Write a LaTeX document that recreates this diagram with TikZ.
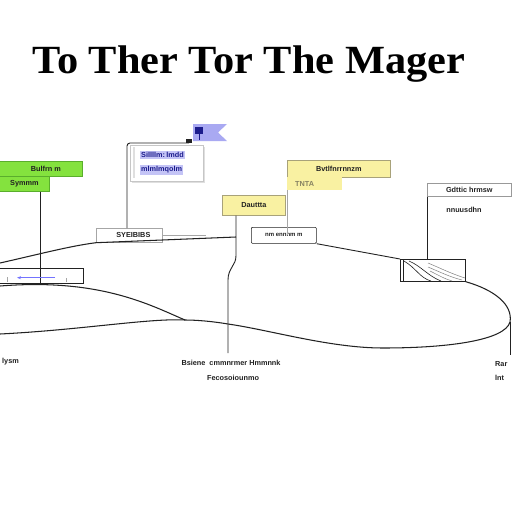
\documentclass[tikz,border=0pt]{standalone}
\usepackage{fontspec}
\setmainfont{Liberation Sans}
\newfontfamily\titlefont{Liberation Serif}
\usetikzlibrary{shadows,arrows.meta}
\definecolor{gfill}{HTML}{84E23E}
\definecolor{gborder}{HTML}{5AAE2C}
\definecolor{yfill}{HTML}{F9F1A2}
\definecolor{yborder}{HTML}{A8A27A}
\definecolor{hlfill}{HTML}{C4C4F6}
\definecolor{hltext}{HTML}{1C1C8C}
\definecolor{flagfill}{HTML}{A9A9F2}
\definecolor{ink}{HTML}{222222}
\begin{document}
\begin{tikzpicture}[x=1pt,y=-1pt,
  lbl/.style={font=\bfseries\fontsize{7.3}{8}\selectfont, inner sep=0pt, text=ink},
  box/.style={lbl, anchor=north west, draw=ink, line width=0.7pt},
  gbox/.style={box, draw=gborder, fill=gfill},
  ybox/.style={box, draw=yborder, fill=yfill},
  wbox/.style={box, fill=white},
  hl/.style={lbl, fill=hlfill, text=hltext, anchor=west, inner xsep=1pt, inner ysep=1.5pt},
  conn/.style={draw=ink, line width=0.9pt},
  curve/.style={draw=ink, line width=1.05pt},
  thinl/.style={draw=gray!70, line width=0.5pt}]
\useasboundingbox (0,0) rectangle (512,512);
\fill[white] (0,0) rectangle (512,512);

% title
\node[font=\titlefont\bfseries\fontsize{40}{42}\selectfont, anchor=base, inner sep=0pt, xscale=1.06, transform shape] (title) at (249,73) {To Ther Tor The Mager};

% green boxes
\node[gbox, minimum width=83, minimum height=15] (g1) at (-1,161) {\hspace*{10pt}Bulfrn m};
\node[gbox, minimum width=50, minimum height=15] (g2) at (-1,176) {Symmm};
\coordinate (gpole) at ([xshift=41pt]g2.south west);

% left lower box
\node[box, draw=ink, minimum width=84, minimum height=15] (lb) at (-1,268) {};
\coordinate (gfoot) at (gpole |- lb.south);
\draw[conn] (gpole) -- (gfoot);
\draw[blue!55, line width=0.9pt, -{Stealth[length=4pt,width=3pt]}] ([xshift=56pt,yshift=6pt]lb.south west) -- ([xshift=18pt,yshift=6pt]lb.south west);
\draw[thinl] (7,277) -- (7,282);
\draw[thinl] (66,278) -- (66,282);

% flag
\fill[flagfill] (193,124) -- (227,124) -- (218,132.5) -- (227,141) -- (193,141) -- cycle;
\fill[hltext] (195,127) rectangle (203,134);
\draw[hltext, line width=0.8pt] (199,134) -- (199,140);
\fill[ink] (186,139) rectangle (192,143);
\coordinate (flagfoot) at (189,143);

% card with highlighted rows
\node[box, draw=gray!45, fill=white, drop shadow={shadow xshift=1.5pt, shadow yshift=-1.5pt, opacity=0.25}, minimum width=73, minimum height=36] (card) at (130,145) {};
\fill[gray!25] (133,147) rectangle (135,178);
\node[hl] (r1) at (140,155) {Sillllm:\,lmdd};
\node[hl] (r2) at (140,170) {mlmlmqolm};

% SYERBOS box
\node[wbox, draw=gray!70, minimum width=66, minimum height=14] (sy) at (96,228) {\hspace*{8pt}SYEIBIBS};
\draw[thinl] (sy.east) -- ++(43,0) coordinate (syend);
\draw[conn, rounded corners=3pt] ([xshift=31pt]sy.north west) |- (flagfoot);

% yellow box 1
\node[ybox, minimum width=63, minimum height=20] (y1) at (222,195) {Dauttta};
\coordinate (y1foot) at (228,353);
\draw[conn] ([xshift=14pt]y1.south west) -- ++(0,40) .. controls +(0,10) and (228,268) .. (228,280) -- (y1foot);

% top hill curve
\draw[curve] (0,263) .. controls (40,254) and (70,246) .. (sy.south west) -- (236,237);

% yellow box 2
\node[ybox, minimum width=103, minimum height=17] (y2) at (287,160) {Bvtlfnrrnnzm};
\node[lbl, anchor=north west, fill=yfill, text=yborder!80!black, minimum width=55, minimum height=13] (y2b) at (287,177) {\hspace*{-20pt}TNTA};

% small box
\node[wbox, minimum width=65, minimum height=16, rounded corners=1pt, font=\bfseries\fontsize{6}{7}\selectfont] (mb) at (251,227) {nm ennnm m};
\draw[thinl, line width=0.7pt] (y2b.south west) -- (y2b.south west |- mb.east);

% right frame box
\node[wbox, draw=gray!80, minimum width=84, minimum height=13] (rb) at (427,183) {Gdttic hrmsw};
\node[lbl] (rt) at (464,210) {nnuusdhn};

% hatched box
\node[box, minimum width=65, minimum height=22] (hb) at (400,259) {};
\draw[conn] (rb.south west) -- (rb.south west |- hb.north);
\draw[conn] (mb.south east) -- (hb.north west);
\draw[thinl, draw=ink] (403,260) -- (403,281);
\draw[ink, line width=0.6pt] (404,261) .. controls (416,268) and (420,278) .. (431,281);
\draw[ink, line width=0.6pt] (409,261) .. controls (421,266) and (428,276) .. (441,281);
\draw[gray, line width=0.5pt] (428,263) .. controls (440,268) and (452,274) .. (465,278);
\draw[gray, line width=0.5pt] (428,267) .. controls (440,272) and (450,277) .. (462,280);
\draw[gray, line width=0.5pt] (430,271) .. controls (438,275) and (445,279) .. (452,281);

% big lower outline
\coordinate (join) at (185,320);
\draw[curve] (hb.south east) .. controls (495,290) and (513,305) .. (510,322)
  .. controls (505,340) and (450,348) .. (383,348)
  .. controls (330,348) and (270,330) .. (228,324)
  .. controls (210,321) and (195,320) .. (join);
\draw[curve] (0,286) .. controls (100,278) and (150,305) .. (join);
\draw[curve] (0,334) .. controls (80,330) and (150,318) .. (join);
\coordinate (rfoot) at (510,355);
\draw[conn] (510,322) -- (rfoot);

% bottom labels
\node[lbl, anchor=west] (b1) at (2,362) {lysm};
\node[lbl] (b2) at (231,363) {Bsiene\ \ cmmnrmer Hmmnnk};
\node[lbl] (b3) at (233,378) {Fecosoiounmo};
\node[lbl, anchor=west] (b4) at (495,364) {Rar};
\node[lbl, anchor=west] (b5) at (495,378) {lnt};
\end{tikzpicture}
\end{document}
